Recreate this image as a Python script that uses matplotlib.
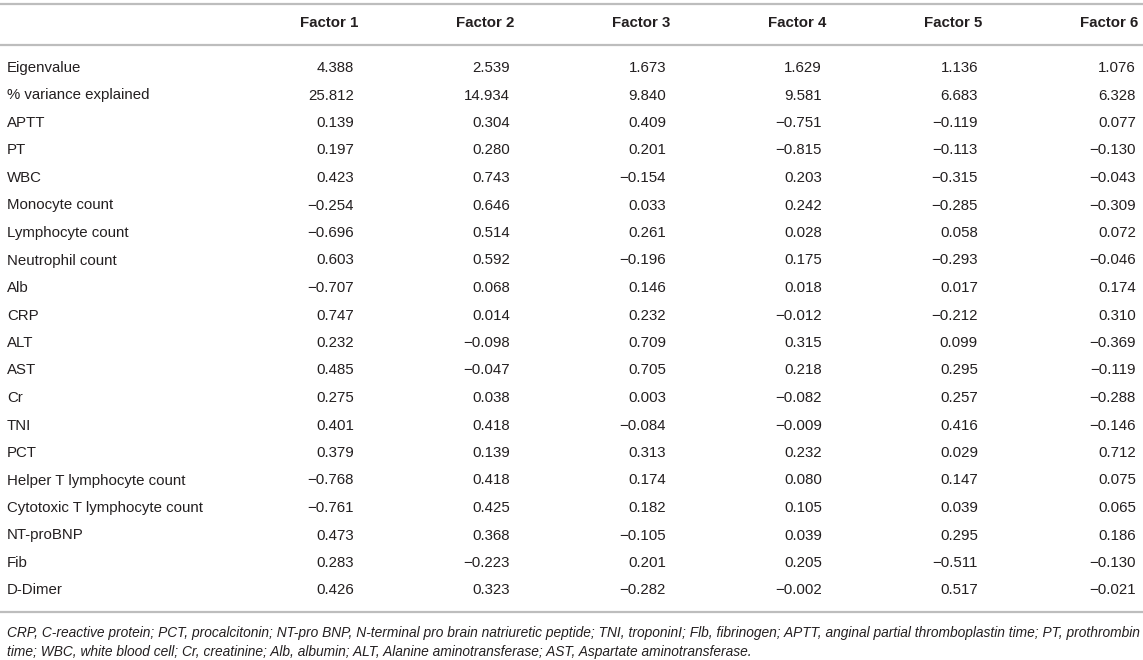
import matplotlib.pyplot as plt

plt.rcParams['font.family'] = ['Liberation Sans', 'DejaVu Sans']

factors = ["Factor 1", "Factor 2", "Factor 3", "Factor 4", "Factor 5", "Factor 6"]

row_labels = [
    "Eigenvalue", "% variance explained", "APTT", "PT", "WBC", "Monocyte count",
    "Lymphocyte count", "Neutrophil count", "Alb", "CRP", "ALT", "AST", "Cr",
    "TNI", "PCT", "Helper T lymphocyte count", "Cytotoxic T lymphocyte count",
    "NT-proBNP", "Fib", "D-Dimer",
]

factor1 = [4.388, 25.812, 0.139, 0.197, 0.423, -0.254, -0.696, 0.603, -0.707, 0.747,
           0.232, 0.485, 0.275, 0.401, 0.379, -0.768, -0.761, 0.473, 0.283, 0.426]
factor2 = [2.539, 14.934, 0.304, 0.280, 0.743, 0.646, 0.514, 0.592, 0.068, 0.014,
           -0.098, -0.047, 0.038, 0.418, 0.139, 0.418, 0.425, 0.368, -0.223, 0.323]
factor3 = [1.673, 9.840, 0.409, 0.201, -0.154, 0.033, 0.261, -0.196, 0.146, 0.232,
           0.709, 0.705, 0.003, -0.084, 0.313, 0.174, 0.182, -0.105, 0.201, -0.282]
factor4 = [1.629, 9.581, -0.751, -0.815, 0.203, 0.242, 0.028, 0.175, 0.018, -0.012,
           0.315, 0.218, -0.082, -0.009, 0.232, 0.080, 0.105, 0.039, 0.205, -0.002]
factor5 = [1.136, 6.683, -0.119, -0.113, -0.315, -0.285, 0.058, -0.293, 0.017, -0.212,
           0.099, 0.295, 0.257, 0.416, 0.029, 0.147, 0.039, 0.295, -0.511, 0.517]
factor6 = [1.076, 6.328, 0.077, -0.130, -0.043, -0.309, 0.072, -0.046, 0.174, 0.310,
           -0.369, -0.119, -0.288, -0.146, 0.712, 0.075, 0.065, 0.186, -0.130, -0.021]

columns = [factor1, factor2, factor3, factor4, factor5, factor6]

footnote_lines = [
    "CRP, C-reactive protein; PCT, procalcitonin; NT-pro BNP, N-terminal pro brain natriuretic peptide; "
    "TNI, troponinI; Flb, fibrinogen; APTT, anginal partial thromboplastin time; PT, prothrombin",
    "time; WBC, white blood cell; Cr, creatinine; Alb, albumin; ALT, Alanine aminotransferase; "
    "AST, Aspartate aminotransferase.",
]

# layout in pixel units (figure is 1143 x 660 at dpi 100)
W, H = 1143, 660
col_right = [354, 510, 666, 822, 978, 1136]
first_row_y = 68
row_step = 27.5
line_color = "#bdbdbd"
text_color = "#231f20"
fs = 10.8

fig = plt.figure(figsize=(W / 100, H / 100), dpi=100)
ax = fig.add_axes([0, 0, 1, 1])
ax.set_xlim(0, W)
ax.set_ylim(H, 0)
ax.axis("off")


def fmt(v):
    s = "%.3f" % abs(v)
    return ("\u2212" + s) if v < 0 else s


for y in (4, 45, 612):
    ax.plot([0, W], [y, y], color=line_color, lw=1.6, solid_capstyle="butt")

for j, name in enumerate(factors):
    hx = col_right[j] + 4 if j < len(factors) - 1 else col_right[j] + 2
    ax.text(hx, 23, name, ha="right", va="center", fontsize=fs,
            fontweight="bold", color=text_color)

for i, label in enumerate(row_labels):
    y = first_row_y + i * row_step
    ax.text(7, y, label, ha="left", va="center", fontsize=fs, color=text_color)
    for j, col in enumerate(columns):
        ax.text(col_right[j], y, fmt(col[i]), ha="right", va="center",
                fontsize=fs, color=text_color)

for k, line in enumerate(footnote_lines):
    ax.text(7, 633 + k * 19, line, ha="left", va="center", fontsize=9.9,
            style="italic", color=text_color)

fig.savefig("out.png", dpi=100)
